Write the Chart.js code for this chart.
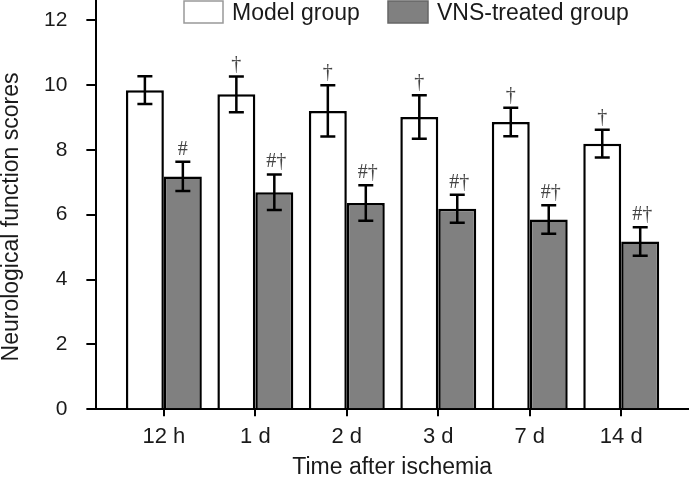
<!DOCTYPE html>
<html lang="en">
<head>
    <meta charset="UTF-8">
    <title>Neurological function scores</title>
    <script src="https://cdn.jsdelivr.net/npm/chart.js"></script>
    <style>
        body {
            margin: 0;
            padding: 0;
            background: #fff;
        }
        canvas {
            display: block;
        }
    </style>
</head>
<body>

    <canvas id="grafico" width="690" height="477"></canvas>

    <script>
        // Data
        const categories = ['12 h', '1 d', '2 d', '3 d', '7 d', '14 d'];
        const modelScores = [9.84, 9.71, 9.20, 9.01, 8.86, 8.19];
        const modelErr = [0.43, 0.55, 0.79, 0.67, 0.44, 0.43];
        const vnsScores = [7.18, 6.69, 6.36, 6.18, 5.85, 5.17];
        const vnsErr = [0.45, 0.55, 0.55, 0.43, 0.44, 0.44];
        const modelMarks = ['', '†', '†', '†', '†', '†'];
        const vnsMarks = ['#', '#†', '#†', '#†', '#†', '#†'];
        const yTicks = [0, 2, 4, 6, 8, 10, 12];

        const fontFamily = '"Liberation Sans", Arial, sans-serif';
        Chart.defaults.font.family = fontFamily;
        Chart.defaults.color = '#1a1a1a';

        // error bars, significance marks, legend and y title
        const extras = {
            id: 'extras',
            afterDatasetsDraw(chart) {
                const ctx = chart.ctx;
                const y = chart.scales.y;
                const groups = [
                    [modelScores, modelErr, modelMarks],
                    [vnsScores, vnsErr, vnsMarks]
                ];
                ctx.save();
                groups.forEach(([vals, errs, marks], d) => {
                    chart.getDatasetMeta(d).data.forEach((bar, i) => {
                        const x = bar.x;
                        const top = y.getPixelForValue(vals[i] + errs[i]);
                        const bot = y.getPixelForValue(vals[i] - errs[i]);
                        ctx.strokeStyle = '#000';
                        ctx.lineWidth = 2.5;
                        ctx.beginPath();
                        ctx.moveTo(x, top);
                        ctx.lineTo(x, bot);
                        ctx.moveTo(x - 7.5, top);
                        ctx.lineTo(x + 7.5, top);
                        ctx.moveTo(x - 7.5, bot);
                        ctx.lineTo(x + 7.5, bot);
                        ctx.stroke();

                        if (marks[i]) {
                            ctx.fillStyle = '#444';
                            ctx.font = '20px "Liberation Serif", "Times New Roman", serif';
                            ctx.textAlign = 'center';
                            ctx.textBaseline = 'alphabetic';
                            ctx.fillText(marks[i], x + (marks[i].length > 1 ? 2 : 0), top - 7);
                        }
                    });
                });
                ctx.restore();
            },
            afterDraw(chart) {
                const ctx = chart.ctx;
                ctx.save();
                // legend
                const items = [
                    { x: 184, w: 39, stroke: '#999' },
                    { x: 388, w: 40, stroke: '#666' }
                ];
                ctx.font = '23px ' + fontFamily;
                ctx.textBaseline = 'alphabetic';
                ctx.textAlign = 'left';
                chart.data.datasets.forEach((ds, i) => {
                    const it = items[i];
                    ctx.fillStyle = ds.backgroundColor;
                    ctx.fillRect(it.x, 1, it.w, 22);
                    ctx.strokeStyle = it.stroke;
                    ctx.lineWidth = 1.5;
                    ctx.strokeRect(it.x, 1, it.w, 22);
                    ctx.fillStyle = '#1a1a1a';
                    ctx.fillText(ds.label, it.x + it.w + 9, 20);
                });
                // y axis title
                ctx.translate(18, 217);
                ctx.rotate(-Math.PI / 2);
                ctx.textAlign = 'center';
                ctx.fillText('Neurological function scores', 0, 0);
                ctx.restore();
            }
        };

        new Chart(document.getElementById('grafico'), {
            type: 'bar',
            data: {
                datasets: [{
                    label: 'Model group',
                    data: modelScores.map((v, i) => ({ x: i, y: v })),
                    backgroundColor: '#ffffff',
                    borderColor: '#000',
                    borderWidth: 2.5
                }, {
                    label: 'VNS-treated group',
                    data: vnsScores.map((v, i) => ({ x: i, y: v })),
                    backgroundColor: '#808080',
                    borderColor: '#000',
                    borderWidth: 2.5
                }]
            },
            options: {
                responsive: false,
                animation: false,
                devicePixelRatio: 1,
                categoryPercentage: 0.83,
                barPercentage: 1.0,
                layout: {
                    padding: { left: 25, right: 2, top: 0, bottom: 0 }
                },
                scales: {
                    x: {
                        type: 'linear',
                        min: -0.738,
                        max: 5.73,
                        offset: false,
                        border: { display: true, color: '#000', width: 2 },
                        grid: { offset: false, drawOnChartArea: false, drawTicks: true, tickLength: 7, color: '#000', lineWidth: 2 },
                        afterBuildTicks: (scale) => {
                            scale.ticks = scale.ticks.filter(t => Number.isInteger(t.value) && t.value >= 0 && t.value < categories.length);
                        },
                        ticks: {
                            stepSize: 1,
                            includeBounds: false,
                            padding: 8,
                            font: { size: 22 },
                            maxRotation: 0,
                            autoSkip: false,
                            callback: (v) => categories[v] || ''
                        },
                        title: {
                            display: true,
                            text: 'Time after ischemia',
                            font: { size: 23, lineHeight: 0.8 },
                            padding: { top: 0, bottom: 0 }
                        }
                    },
                    y: {
                        min: 0,
                        max: 12.62,
                        border: { display: true, color: '#000', width: 2 },
                        grid: { drawOnChartArea: false, drawTicks: true, tickLength: 10, color: '#000', lineWidth: 2 },
                        afterBuildTicks: (scale) => {
                            scale.ticks = yTicks.map(v => ({ value: v }));
                        },
                        afterFit: (scale) => {
                            scale.paddingTop = 0;
                            scale.paddingBottom = 0;
                        },
                        ticks: {
                            stepSize: 2,
                            includeBounds: false,
                            padding: 19,
                            font: { size: 21 }
                        }
                    }
                },
                plugins: {
                    legend: { display: false },
                    tooltip: { enabled: false }
                }
            },
            plugins: [extras]
        });
    </script>

</body>
</html>
